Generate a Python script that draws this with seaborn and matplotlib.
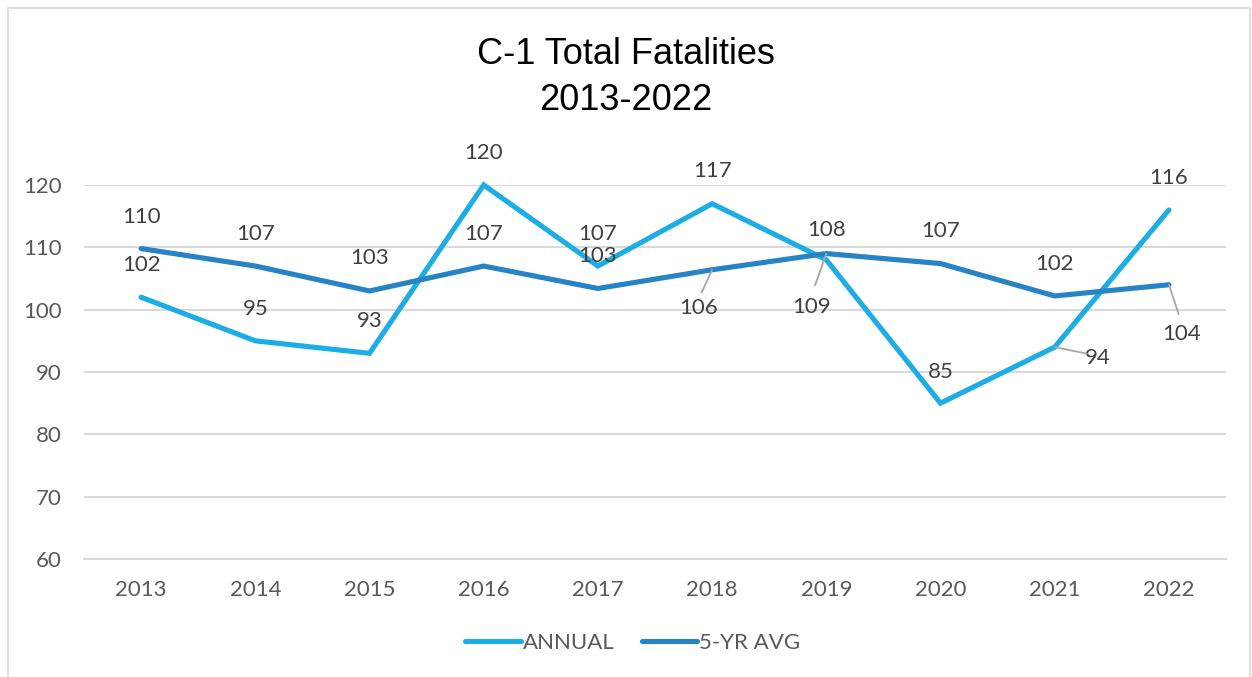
import pandas as pd
import matplotlib.pyplot as plt
import matplotlib.patches as patches
import seaborn as sns

years = [2013, 2014, 2015, 2016, 2017, 2018, 2019, 2020, 2021, 2022]
annual = [102, 95, 93, 120, 107, 117, 108, 85, 94, 116]
five_yr_avg = [109.8, 107.0, 103.0, 107.0, 103.4, 106.4, 109.0, 107.4, 102.2, 104.0]
y_ticks = [60, 70, 80, 90, 100, 110, 120]

# label offsets in pixels (dx, dy), leader lines where Excel moved the label
annual_offsets = [(0, 32), (0, 32), (0, 32), (0, 32), (0, 32), (0, 33), (0, 30), (0, 31), (43, -11), (0, 32)]
avg_offsets = [(0, 32), (0, 32), (0, 33), (0, 32), (0, 32), (-14, -38), (-15, -53), (0, 33), (0, 32), (13, -49)]
annual_leader = [False] * 8 + [True, False]
avg_leader = [False] * 5 + [True, True, False, False, True]

light_blue = "#1CADE4"
dark_blue = "#2683C6"
text_grey = "#595959"

sns.set_theme(style="white")
plt.rcParams["font.family"] = ["Lato", "DejaVu Sans"]

df = pd.DataFrame({
    "pos": list(range(len(years))) * 2,
    "value": annual + five_yr_avg,
    "series": ["ANNUAL"] * len(years) + ["5-YR AVG"] * len(years),
})

fig = plt.figure(figsize=(12.52, 6.77), dpi=100)
ax = fig.add_axes([84 / 1252, 1 - 559 / 677, (1226 - 84) / 1252, (559 - 185) / 677])

sns.lineplot(data=df, x="pos", y="value", hue="series", ax=ax,
             palette={"ANNUAL": light_blue, "5-YR AVG": dark_blue},
             linewidth=3.7, legend=True, solid_capstyle="round")
for ln in ax.lines:
    ln.set_clip_on(False)
    ln.set_solid_joinstyle("miter")

ax.set_xlim(-0.5, len(years) - 0.5)
ax.set_ylim(60, 120)
ax.set_yticks(y_ticks)
ax.set_xticks(range(len(years)))
ax.set_xticklabels([str(y) for y in years])
ax.yaxis.grid(True, color="#D9D9D9", linewidth=1.5)
ax.set_axisbelow(True)
for s in ["top", "right", "left"]:
    ax.spines[s].set_visible(False)
ax.spines["bottom"].set_color("#D9D9D9")
ax.spines["bottom"].set_linewidth(1.5)
ax.tick_params(axis="both", length=0, labelsize=16, colors=text_grey)
ax.tick_params(axis="x", pad=15)
ax.tick_params(axis="y", pad=16)
ax.set_xlabel("")
ax.set_ylabel("")


def add_labels(values, offsets, leaders):
    for i, (v, (dx, dy), lead) in enumerate(zip(values, offsets, leaders)):
        ax.annotate(f"{v:.0f}", (i, v), xytext=(dx, dy), textcoords="offset pixels",
                    ha="center", va="center", fontsize=16, color="#404040",
                    annotation_clip=False)
        if lead:
            ax.annotate("", (i, v), xytext=(dx * 0.75, dy * 0.6), textcoords="offset pixels",
                        arrowprops=dict(arrowstyle="-", color="#A6A6A6", lw=1.3,
                                        shrinkA=0, shrinkB=0),
                        annotation_clip=False)


add_labels(annual, annual_offsets, annual_leader)
add_labels(five_yr_avg, avg_offsets, avg_leader)

handles, labels = ax.get_legend_handles_labels()
ax.legend(handles, labels, loc="center", bbox_to_anchor=(633 / 1252, 34 / 677),
          bbox_transform=fig.transFigure, ncol=2,
          frameon=False, fontsize=16, labelcolor=text_grey, handlelength=2.5,
          handletextpad=0.1, columnspacing=1.2)

fig.text(0.5, 1 - 55 / 677, "C-1 Total Fatalities", ha="center", va="center",
         fontsize=26, family=["Liberation Sans", "DejaVu Sans"], color="black")
fig.text(0.5, 1 - 100 / 677, "2013-2022", ha="center", va="center",
         fontsize=26, family=["Liberation Sans", "DejaVu Sans"], color="black")

fig.patches.append(patches.Rectangle((8 / 1252, -0.01), 1 - 10 / 1252, 1 - 8 / 677 + 0.01,
                                     transform=fig.transFigure, fill=False,
                                     edgecolor="#D9D9D9", linewidth=1.2))

fig.savefig("out.png", dpi=100, facecolor="white")
